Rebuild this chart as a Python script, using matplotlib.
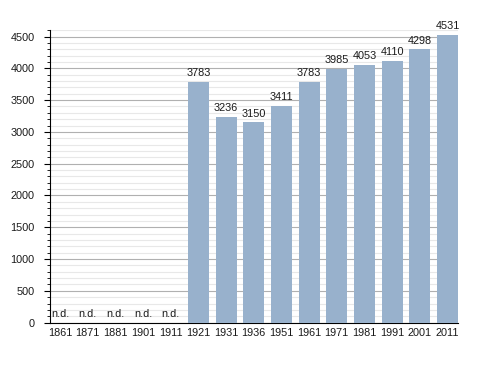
import matplotlib
matplotlib.use("Agg")
import matplotlib.pyplot as plt
from matplotlib.ticker import MultipleLocator

plt.rcParams['font.family'] = ['Liberation Sans', 'DejaVu Sans']

anni = ['1861', '1871', '1881', '1901', '1911', '1921', '1931', '1936',
        '1951', '1961', '1971', '1981', '1991', '2001', '2011']
abitanti = [None, None, None, None, None, 3783, 3236, 3150,
            3411, 3783, 3985, 4053, 4110, 4298, 4531]

fig = plt.figure(figsize=(4.88, 3.73), dpi=100)
ax = fig.add_axes([0.1025, 0.135, 0.836, 0.785])

x = list(range(len(anni)))
valori = [v if v is not None else 0 for v in abitanti]
ax.bar(x, valori, width=0.76, color='#98b1cc', zorder=3)

for i, v in enumerate(abitanti):
    testo = 'n.d.' if v is None else str(v)
    ax.text(i, (v or 0) + 60, testo, ha='center', va='bottom', fontsize=7.8,
            color='#1a1a1a', zorder=4)

ax.set_xlim(-0.36, 14.38)
ax.set_ylim(0, 4605)
ax.set_xticks(x)
ax.set_xticklabels(anni)
ax.yaxis.set_major_locator(MultipleLocator(500))
ax.yaxis.set_minor_locator(MultipleLocator(100))
ax.grid(axis='y', which='major', color='#b0b0b0', linewidth=0.8, zorder=0)
ax.grid(axis='y', which='minor', color='#e8e8e8', linewidth=0.8, zorder=0)
ax.tick_params(axis='both', labelsize=7.8, labelcolor='#1a1a1a')
ax.tick_params(axis='x', length=0, pad=4)
ax.tick_params(axis='y', which='major', length=4, pad=7)
ax.tick_params(axis='y', which='minor', length=2.5)
ax.spines['top'].set_visible(False)
ax.spines['right'].set_visible(False)

fig.savefig('out.png', dpi=100)
